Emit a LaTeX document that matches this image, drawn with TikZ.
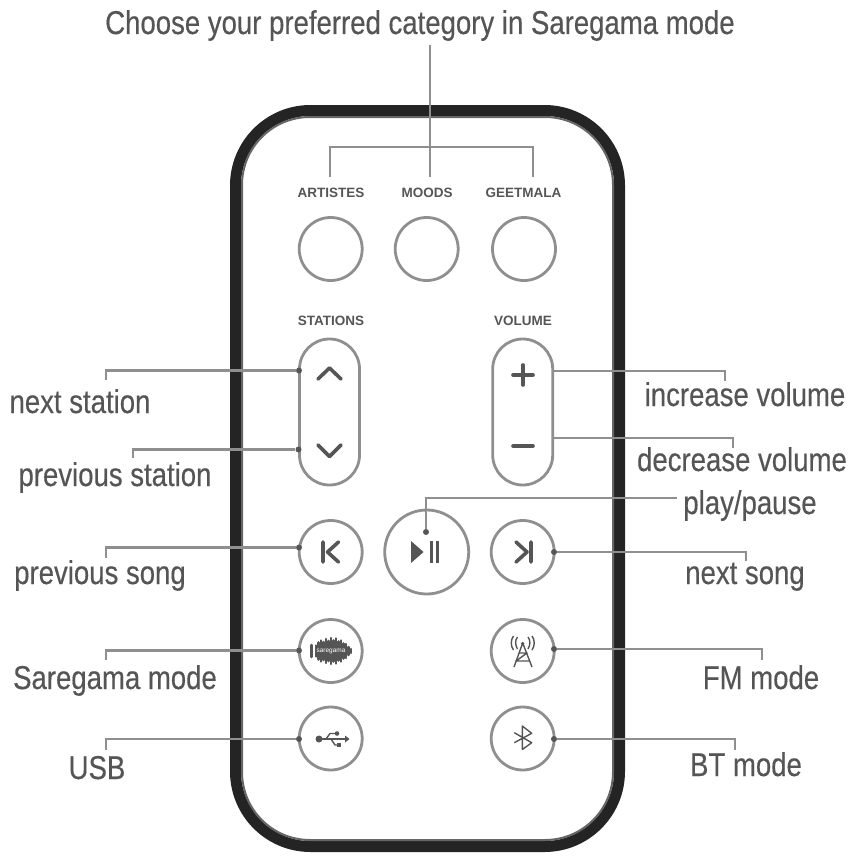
\documentclass[tikz,border=0pt]{standalone}
\usepackage{fontspec}
\setmainfont{Liberation Sans}
\newfontfamily\capfont[FakeStretch=0.835,FakeBold=0.35]{Liberation Sans}
\definecolor{leadgrey}{HTML}{8F8F8F}
\definecolor{inkgrey}{HTML}{555555}
\definecolor{shellblack}{HTML}{242424}
\definecolor{shellgrey}{HTML}{666666}

\begin{document}
\begin{tikzpicture}[
		x=1pt,y=-1pt,
		shell/.style={rectangle,draw=shellblack,line width=11pt,minimum width=384pt,minimum height=736pt,rounded corners=75pt},
		shelledge/.style={rectangle,draw=shellgrey,line width=2pt,minimum width=371pt,minimum height=723pt,rounded corners=68pt},
		btn/.style={circle,draw=leadgrey,line width=2.8pt,minimum size=63pt,inner sep=0pt},
		bigbtn/.style={btn,minimum size=84pt},
		pill/.style={rectangle,draw=leadgrey,line width=2.8pt,minimum width=60pt,minimum height=146pt,rounded corners=30pt,inner sep=0pt},
		tag/.style={font=\bfseries\fontsize{13.5}{14}\selectfont,text=inkgrey,inner sep=0pt},
		calltext/.style={font=\capfont\fontsize{33}{36}\selectfont,text=inkgrey,inner sep=0pt,anchor=base},
		lead/.style={draw=leadgrey,line width=2.5pt},
		pt/.style={circle,fill=inkgrey,inner sep=0pt,minimum size=6pt},
		ico/.style={draw=inkgrey,line width=3.6pt,line cap=round,line join=round},
		thinico/.style={draw=inkgrey,line width=1.4pt,line join=round}
		]
		\useasboundingbox (0,0) rectangle (854,859);
		\node[shell] (body) at (427.5,478.5) {};
		\node[shelledge] (bodyedge) at (427.5,478.5) {};

		\node[tag] (artistes) at (331,192.5) {ARTISTES};
		\node[tag] (moods) at (427,192.5) {MOODS};
		\node[tag] (geetmala) at (523.5,192.5) {GEETMALA};
		\node[tag] (stationstag) at (331,320.5) {STATIONS};
		\node[tag] (volumetag) at (523,320.5) {VOLUME};

		\node[btn] (artistesbtn) at (330.7,249) {};
		\node[btn] (moodsbtn) at (426.7,249) {};
		\node[btn] (geetmalabtn) at (524,249) {};
		\node[pill] (stations) at (329.5,412) {};
		\node[pill] (volume) at (522.7,412) {};
		\node[btn] (prevbtn) at (330.7,552) {};
		\node[bigbtn] (playbtn) at (426.7,552) {};
		\node[btn] (nextbtn) at (522.7,552) {};
		\node[btn] (saregamabtn) at (330.7,651) {};
		\node[btn] (fmbtn) at (522.7,651) {};
		\node[btn] (usbbtn) at (330.7,738.5) {};
		\node[btn] (btbtn) at (522.7,738.5) {};

		\draw[ico] (318,379) -- (329.5,368) -- (341,379);
		\draw[ico] (318,445) -- (329.5,456.5) -- (341,445);
		\draw[ico] (523,365) -- (523,385) (513,375) -- (533,375);
		\draw[ico] (513,446) -- (533,446);
		\draw[ico] (323,542) -- (323,562) (338.5,542) -- (327.5,552) -- (338.5,562);
		\draw[ico] (516,542) -- (527,552) -- (516,562) (531,542) -- (531,562);
		\fill[inkgrey] (411,541) -- (423.5,552) -- (411,563) -- cycle;
		\draw[inkgrey,line width=3pt] (431,541) -- (431,563) (437,541) -- (437,563);

		\foreach \px/\ph in {311.5/12,316/11,318.5/17,321/21,323.5/18,326/24,328.5/20,331/26,333.5/21,336/25,338.5/19,341/21,343.5/15,346/14,348.5/8,351/4}
			\draw[inkgrey,line width=2.6pt,line cap=round] (\px,651-\ph/2) -- (\px,651+\ph/2);
		\node[font=\fontsize{6.5}{7}\selectfont,text=white,inner sep=0pt] (saregamalogo) at (331,651) {saregama};

		\fill[inkgrey] (319,739) circle (3.5);
		\draw[thinico] (321,739) -- (346,739);
		\fill[inkgrey] (345,735.5) -- (349.5,739) -- (345,742.5) -- cycle;
		\draw[thinico] (326,739) -- (330,733.5) -- (337,733.5);
		\fill[inkgrey] (337,733.5) circle (2.3);
		\draw[thinico] (331,739) -- (335,745) -- (338,745);
		\fill[inkgrey] (337,743) rectangle (341,747);

		\draw[thinico] (514,667) -- (522.7,643) -- (532,667);
		\draw[thinico] (519,653) -- (527,653) -- (516,661) -- (530,661);
		\fill[inkgrey] (522.7,643.5) circle (1.8);
		\draw[thinico] (517.5,637) .. controls (515,640) and (515,645) .. (517.5,649);
		\draw[thinico] (513.5,636) .. controls (510.5,640) and (510.5,646) .. (513.5,650);
		\draw[thinico] (528,637) .. controls (530.5,640) and (530.5,645) .. (528,649);
		\draw[thinico] (532,636) .. controls (535,640) and (535,646) .. (532,650);

		\draw[thinico] (514.3,732.7) -- (531.7,742.7) -- (522.3,749.5) -- (522.3,726) -- (531.7,733.3) -- (514.3,742.7);

		\node[calltext] (titlecap) at (420,34) {Choose your preferred category in Saregama mode};
		\node[calltext] (nextstationcap) at (80,413) {next station};
		\node[calltext] (prevstationcap) at (115,486) {previous station};
		\node[calltext] (prevsongcap) at (100,584) {previous song};
		\node[calltext] (saregamacap) at (115,689) {Saregama mode};
		\node[calltext] (usbcap) at (97,779) {USB};
		\node[calltext] (increasecap) at (745,406) {increase volume};
		\node[calltext] (decreasecap) at (742,471) {decrease volume};
		\node[calltext] (playcap) at (750,514) {play/pause};
		\node[calltext] (nextsongcap) at (745,584) {next song};
		\node[calltext] (fmcap) at (761,689) {FM mode};
		\node[calltext] (btcap) at (746,776) {BT mode};

		\coordinate (titleend) at (430,45);
		\coordinate (artistesend) at (330,177);
		\coordinate (moodsend) at (430,177);
		\coordinate (geetmalaend) at (533,177);
		\coordinate (bracketmid) at (430,147);
		\draw[lead] (titleend) -- (moodsend);
		\draw[lead] (artistesend) |- (bracketmid) -| (geetmalaend);

		\coordinate (nextstationend) at (106,380);
		\coordinate (prevstationend) at (133,458);
		\coordinate (prevsongend) at (106,558);
		\coordinate (saregamaend) at (106,660);
		\coordinate (usbend) at (106,750);
		\coordinate (increaseend) at (725,381);
		\coordinate (decreaseend) at (733,448);
		\coordinate (playend) at (677,498);
		\coordinate (nextsongend) at (746,561);
		\coordinate (fmend) at (762,660);
		\coordinate (btend) at (735,750);
		\coordinate (increasestart) at (553,371);
		\coordinate (decreasestart) at (553,438);

		\node[pt] (nextstationpt) at (299,370.5) {};
		\node[pt] (prevstationpt) at (298.5,449.5) {};
		\node[pt] (prevsongpt) at (299,547.5) {};
		\node[pt] (saregamapt) at (299,650.5) {};
		\node[pt] (usbpt) at (299,739) {};
		\node[pt] (playpt) at (426,532) {};
		\node[pt] (nextsongpt) at (554,552) {};
		\node[pt] (fmpt) at (554,649) {};
		\node[pt] (btpt) at (554,739) {};

		\draw[lead] (nextstationpt) -| (nextstationend);
		\draw[lead] (prevstationpt) -| (prevstationend);
		\draw[lead] (prevsongpt) -| (prevsongend);
		\draw[lead] (saregamapt) -| (saregamaend);
		\draw[lead] (usbpt) -| (usbend);
		\draw[lead] (increasestart) -| (increaseend);
		\draw[lead] (decreasestart) -| (decreaseend);
		\draw[lead] (playpt) |- (playend);
		\draw[lead] (nextsongpt) -| (nextsongend);
		\draw[lead] (fmpt) -| (fmend);
		\draw[lead] (btpt) -| (btend);
	\end{tikzpicture}
\end{document}
